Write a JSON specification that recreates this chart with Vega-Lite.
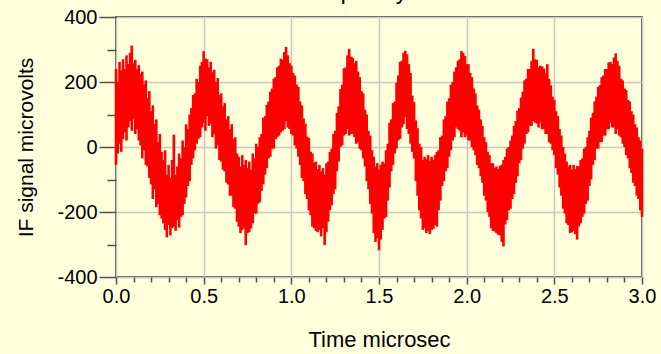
{
  "$schema": "https://vega.github.io/schema/vega-lite/v6.json",
  "width": 526,
  "height": 260,
  "autosize": {"type": "none"},
  "padding": {"left": 116, "top": 17, "right": 19, "bottom": 77},
  "background": "#FFFFDC",
  "title": {"text": "Frequency GHz", "fontSize": 23, "font": "Liberation Sans", "fontWeight": "normal", "color": "#000000", "baseline": "alphabetic", "frame": "group", "anchor": "middle", "offset": 0, "dy": 15},
  "config": {
    "view": {"stroke": "#202020", "strokeWidth": 1.5, "fill": "#FFFFDC"},
    "axis": {"labelFont": "Liberation Sans", "titleFont": "Liberation Sans", "labelFontSize": 20, "titleFontSize": 21, "titleFontWeight": "normal", "labelColor": "#000000", "titleColor": "#000000", "domain": false, "tickColor": "#505050", "tickWidth": 1.5, "gridColor": "#C8C8C0", "gridWidth": 1.5}
  },
  "data": {"values": [
{"t":0.00,"lo":-55,"hi":240},{"t":0.01,"lo":-20,"hi":200},{"t":0.02,"lo":10,"hi":262},{"t":0.03,"lo":-15,"hi":235},{"t":0.04,"lo":25,"hi":270},
{"t":0.05,"lo":45,"hi":240},{"t":0.06,"lo":20,"hi":282},{"t":0.07,"lo":60,"hi":255},{"t":0.08,"lo":80,"hi":290},{"t":0.09,"lo":50,"hi":312},
{"t":0.10,"lo":85,"hi":258},{"t":0.11,"lo":40,"hi":268},{"t":0.12,"lo":55,"hi":240},{"t":0.13,"lo":20,"hi":252},{"t":0.14,"lo":5,"hi":225},
{"t":0.15,"lo":-35,"hi":232},{"t":0.16,"lo":-10,"hi":192},{"t":0.17,"lo":-55,"hi":205},{"t":0.18,"lo":-60,"hi":150},{"t":0.19,"lo":-95,"hi":172},
{"t":0.20,"lo":-115,"hi":110},{"t":0.21,"lo":-160,"hi":128},{"t":0.22,"lo":-130,"hi":70},{"t":0.23,"lo":-185,"hi":85},{"t":0.24,"lo":-175,"hi":15},
{"t":0.25,"lo":-210,"hi":40},{"t":0.26,"lo":-220,"hi":-15},{"t":0.27,"lo":-235,"hi":-40},{"t":0.28,"lo":-255,"hi":-10},{"t":0.29,"lo":-278,"hi":-85},
{"t":0.30,"lo":-240,"hi":-55},{"t":0.31,"lo":-272,"hi":-95},{"t":0.32,"lo":-250,"hi":-40},{"t":0.33,"lo":-245,"hi":38},{"t":0.34,"lo":-258,"hi":-85},
{"t":0.35,"lo":-225,"hi":-60},{"t":0.36,"lo":-248,"hi":-20},{"t":0.37,"lo":-215,"hi":-35},{"t":0.38,"lo":-210,"hi":20},{"t":0.39,"lo":-175,"hi":0},
{"t":0.40,"lo":-155,"hi":70},{"t":0.41,"lo":-120,"hi":55},{"t":0.42,"lo":-105,"hi":100},{"t":0.43,"lo":-55,"hi":120},{"t":0.44,"lo":-35,"hi":160},
{"t":0.45,"lo":-10,"hi":165},{"t":0.46,"lo":10,"hi":210},{"t":0.47,"lo":25,"hi":200},{"t":0.48,"lo":30,"hi":250},{"t":0.49,"lo":60,"hi":262},
{"t":0.50,"lo":75,"hi":295},{"t":0.51,"lo":50,"hi":272},{"t":0.52,"lo":95,"hi":270},{"t":0.53,"lo":65,"hi":245},{"t":0.54,"lo":70,"hi":262},
{"t":0.55,"lo":30,"hi":230},{"t":0.56,"lo":40,"hi":238},{"t":0.57,"lo":-5,"hi":200},{"t":0.58,"lo":5,"hi":212},{"t":0.59,"lo":-40,"hi":160},
{"t":0.60,"lo":-45,"hi":165},{"t":0.61,"lo":-70,"hi":125},{"t":0.62,"lo":-75,"hi":135},{"t":0.63,"lo":-110,"hi":85},{"t":0.64,"lo":-115,"hi":95},
{"t":0.65,"lo":-150,"hi":55},{"t":0.66,"lo":-150,"hi":70},{"t":0.67,"lo":-185,"hi":25},{"t":0.68,"lo":-190,"hi":30},{"t":0.69,"lo":-230,"hi":-20},
{"t":0.70,"lo":-245,"hi":-30},{"t":0.71,"lo":-265,"hi":-60},{"t":0.72,"lo":-255,"hi":-25},{"t":0.73,"lo":-250,"hi":-55},{"t":0.74,"lo":-302,"hi":-40},
{"t":0.75,"lo":-265,"hi":-65},{"t":0.76,"lo":-262,"hi":-45},{"t":0.77,"lo":-250,"hi":-70},{"t":0.78,"lo":-235,"hi":-20},{"t":0.79,"lo":-205,"hi":-35},
{"t":0.80,"lo":-205,"hi":10},{"t":0.81,"lo":-175,"hi":0},{"t":0.82,"lo":-170,"hi":30},{"t":0.83,"lo":-135,"hi":40},{"t":0.84,"lo":-115,"hi":90},
{"t":0.85,"lo":-85,"hi":95},{"t":0.86,"lo":-65,"hi":130},{"t":0.87,"lo":-35,"hi":140},{"t":0.88,"lo":-30,"hi":170},{"t":0.89,"lo":-5,"hi":180},
{"t":0.90,"lo":-5,"hi":210},{"t":0.91,"lo":25,"hi":215},{"t":0.92,"lo":30,"hi":245},{"t":0.93,"lo":35,"hi":250},{"t":0.94,"lo":45,"hi":272},
{"t":0.95,"lo":50,"hi":268},{"t":0.96,"lo":55,"hi":292},{"t":0.97,"lo":80,"hi":308},{"t":0.98,"lo":60,"hi":282},{"t":0.99,"lo":55,"hi":258},
{"t":1.00,"lo":40,"hi":250},{"t":1.01,"lo":35,"hi":228},{"t":1.02,"lo":5,"hi":220},{"t":1.03,"lo":-5,"hi":192},{"t":1.04,"lo":-30,"hi":185},
{"t":1.05,"lo":-55,"hi":140},{"t":1.06,"lo":-95,"hi":128},{"t":1.07,"lo":-105,"hi":88},{"t":1.08,"lo":-145,"hi":72},{"t":1.09,"lo":-160,"hi":32},
{"t":1.10,"lo":-195,"hi":28},{"t":1.11,"lo":-210,"hi":-15},{"t":1.12,"lo":-245,"hi":-20},{"t":1.13,"lo":-250,"hi":-48},{"t":1.14,"lo":-258,"hi":-45},
{"t":1.15,"lo":-262,"hi":-68},{"t":1.16,"lo":-255,"hi":-55},{"t":1.17,"lo":-275,"hi":-75},{"t":1.18,"lo":-250,"hi":-65},{"t":1.19,"lo":-302,"hi":-85},
{"t":1.20,"lo":-262,"hi":-50},{"t":1.21,"lo":-230,"hi":-45},{"t":1.22,"lo":-195,"hi":-15},{"t":1.23,"lo":-180,"hi":-5},{"t":1.24,"lo":-145,"hi":40},
{"t":1.25,"lo":-130,"hi":50},{"t":1.26,"lo":-75,"hi":105},{"t":1.27,"lo":-45,"hi":125},{"t":1.28,"lo":0,"hi":178},{"t":1.29,"lo":5,"hi":192},
{"t":1.30,"lo":35,"hi":242},{"t":1.31,"lo":40,"hi":245},{"t":1.32,"lo":55,"hi":282},{"t":1.33,"lo":35,"hi":302},{"t":1.34,"lo":40,"hi":278},
{"t":1.35,"lo":40,"hi":275},{"t":1.36,"lo":30,"hi":258},{"t":1.37,"lo":10,"hi":265},{"t":1.38,"lo":15,"hi":232},{"t":1.39,"lo":-5,"hi":215},
{"t":1.40,"lo":-10,"hi":172},{"t":1.41,"lo":-35,"hi":165},{"t":1.42,"lo":-60,"hi":115},{"t":1.43,"lo":-105,"hi":100},{"t":1.44,"lo":-130,"hi":50},
{"t":1.45,"lo":-175,"hi":35},{"t":1.46,"lo":-205,"hi":-10},{"t":1.47,"lo":-265,"hi":-30},{"t":1.48,"lo":-292,"hi":-60},{"t":1.49,"lo":-280,"hi":-50},
{"t":1.50,"lo":-318,"hi":-70},{"t":1.51,"lo":-285,"hi":-55},{"t":1.52,"lo":-255,"hi":-45},{"t":1.53,"lo":-220,"hi":-50},{"t":1.54,"lo":-215,"hi":-10},
{"t":1.55,"lo":-165,"hi":10},{"t":1.56,"lo":-125,"hi":75},{"t":1.57,"lo":-75,"hi":85},{"t":1.58,"lo":-55,"hi":135},{"t":1.59,"lo":-20,"hi":140},
{"t":1.60,"lo":-5,"hi":198},{"t":1.61,"lo":20,"hi":220},{"t":1.62,"lo":25,"hi":262},{"t":1.63,"lo":60,"hi":265},{"t":1.64,"lo":70,"hi":290},
{"t":1.65,"lo":92,"hi":296},{"t":1.66,"lo":55,"hi":285},{"t":1.67,"lo":40,"hi":255},{"t":1.68,"lo":10,"hi":228},{"t":1.69,"lo":-15,"hi":158},
{"t":1.70,"lo":-35,"hi":138},{"t":1.71,"lo":-105,"hi":82},{"t":1.72,"lo":-150,"hi":58},{"t":1.73,"lo":-195,"hi":10},{"t":1.74,"lo":-220,"hi":0},
{"t":1.75,"lo":-255,"hi":-40},{"t":1.76,"lo":-250,"hi":-30},{"t":1.77,"lo":-265,"hi":-38},{"t":1.78,"lo":-258,"hi":-25},{"t":1.79,"lo":-268,"hi":-42},
{"t":1.80,"lo":-255,"hi":-30},{"t":1.81,"lo":-252,"hi":-40},{"t":1.82,"lo":-240,"hi":-25},{"t":1.83,"lo":-245,"hi":-15},{"t":1.84,"lo":-195,"hi":-10},
{"t":1.85,"lo":-165,"hi":30},{"t":1.86,"lo":-120,"hi":35},{"t":1.87,"lo":-105,"hi":85},{"t":1.88,"lo":-75,"hi":95},{"t":1.89,"lo":-65,"hi":140},
{"t":1.90,"lo":-30,"hi":150},{"t":1.91,"lo":-10,"hi":192},{"t":1.92,"lo":20,"hi":200},{"t":1.93,"lo":30,"hi":232},{"t":1.94,"lo":60,"hi":245},
{"t":1.95,"lo":55,"hi":265},{"t":1.96,"lo":50,"hi":270},{"t":1.97,"lo":30,"hi":295},{"t":1.98,"lo":45,"hi":290},{"t":1.99,"lo":30,"hi":280},
{"t":2.00,"lo":35,"hi":255},{"t":2.01,"lo":20,"hi":255},{"t":2.02,"lo":20,"hi":228},{"t":2.03,"lo":0,"hi":215},{"t":2.04,"lo":-10,"hi":180},
{"t":2.05,"lo":-25,"hi":165},{"t":2.06,"lo":-55,"hi":128},{"t":2.07,"lo":-65,"hi":115},{"t":2.08,"lo":-90,"hi":85},{"t":2.09,"lo":-110,"hi":65},
{"t":2.10,"lo":-150,"hi":30},{"t":2.11,"lo":-165,"hi":15},{"t":2.12,"lo":-200,"hi":-15},{"t":2.13,"lo":-215,"hi":-25},{"t":2.14,"lo":-250,"hi":-50},
{"t":2.15,"lo":-258,"hi":-50},{"t":2.16,"lo":-260,"hi":-65},{"t":2.17,"lo":-265,"hi":-60},{"t":2.18,"lo":-270,"hi":-68},{"t":2.19,"lo":-272,"hi":-58},
{"t":2.20,"lo":-292,"hi":-55},{"t":2.21,"lo":-306,"hi":-40},{"t":2.22,"lo":-238,"hi":-30},{"t":2.23,"lo":-225,"hi":-5},{"t":2.24,"lo":-195,"hi":0},
{"t":2.25,"lo":-190,"hi":20},{"t":2.26,"lo":-160,"hi":35},{"t":2.27,"lo":-145,"hi":65},{"t":2.28,"lo":-110,"hi":80},{"t":2.29,"lo":-90,"hi":112},
{"t":2.30,"lo":-50,"hi":120},{"t":2.31,"lo":-40,"hi":152},{"t":2.32,"lo":-5,"hi":170},{"t":2.33,"lo":10,"hi":205},{"t":2.34,"lo":40,"hi":210},
{"t":2.35,"lo":45,"hi":240},{"t":2.36,"lo":65,"hi":240},{"t":2.37,"lo":65,"hi":265},{"t":2.38,"lo":80,"hi":302},{"t":2.39,"lo":75,"hi":270},
{"t":2.40,"lo":72,"hi":268},{"t":2.41,"lo":60,"hi":245},{"t":2.42,"lo":75,"hi":250},{"t":2.43,"lo":55,"hi":248},{"t":2.44,"lo":55,"hi":242},
{"t":2.45,"lo":40,"hi":228},{"t":2.46,"lo":40,"hi":255},{"t":2.47,"lo":15,"hi":210},{"t":2.48,"lo":10,"hi":190},{"t":2.49,"lo":-10,"hi":155},
{"t":2.50,"lo":-25,"hi":145},{"t":2.51,"lo":-65,"hi":110},{"t":2.52,"lo":-85,"hi":95},{"t":2.53,"lo":-125,"hi":55},{"t":2.54,"lo":-150,"hi":35},
{"t":2.55,"lo":-190,"hi":0},{"t":2.56,"lo":-205,"hi":-20},{"t":2.57,"lo":-235,"hi":-45},{"t":2.58,"lo":-240,"hi":-60},{"t":2.59,"lo":-265,"hi":-55},
{"t":2.60,"lo":-262,"hi":-70},{"t":2.61,"lo":-258,"hi":-55},{"t":2.62,"lo":-268,"hi":-68},{"t":2.63,"lo":-285,"hi":-58},{"t":2.64,"lo":-245,"hi":-60},
{"t":2.65,"lo":-235,"hi":-40},{"t":2.66,"lo":-215,"hi":-35},{"t":2.67,"lo":-205,"hi":-5},{"t":2.68,"lo":-175,"hi":0},{"t":2.69,"lo":-165,"hi":30},
{"t":2.70,"lo":-120,"hi":50},{"t":2.71,"lo":-100,"hi":90},{"t":2.72,"lo":-55,"hi":105},{"t":2.73,"lo":-40,"hi":140},{"t":2.74,"lo":-5,"hi":155},
{"t":2.75,"lo":-5,"hi":185},{"t":2.76,"lo":15,"hi":190},{"t":2.77,"lo":15,"hi":215},{"t":2.78,"lo":35,"hi":220},{"t":2.79,"lo":35,"hi":240},
{"t":2.80,"lo":55,"hi":240},{"t":2.81,"lo":55,"hi":260},{"t":2.82,"lo":75,"hi":262},{"t":2.83,"lo":60,"hi":255},{"t":2.84,"lo":60,"hi":275},
{"t":2.85,"lo":40,"hi":288},{"t":2.86,"lo":55,"hi":265},{"t":2.87,"lo":35,"hi":250},{"t":2.88,"lo":30,"hi":210},{"t":2.89,"lo":10,"hi":205},
{"t":2.90,"lo":0,"hi":180},{"t":2.91,"lo":-25,"hi":175},{"t":2.92,"lo":-35,"hi":145},{"t":2.93,"lo":-65,"hi":140},{"t":2.94,"lo":-80,"hi":110},
{"t":2.95,"lo":-110,"hi":100},{"t":2.96,"lo":-120,"hi":70},{"t":2.97,"lo":-150,"hi":60},{"t":2.98,"lo":-160,"hi":30},{"t":2.99,"lo":-195,"hi":20},
{"t":3.00,"lo":-215,"hi":-5}
  ]},
  "mark": {"type": "rule", "color": "#FF0000", "strokeWidth": 2.6},
  "encoding": {
    "x": {
      "field": "t", "type": "quantitative",
      "scale": {"domain": [0, 3], "nice": false, "zero": false},
      "axis": {
        "title": "Time microsec",
        "titleFontSize": 22,
        "values": [0,0.1,0.2,0.3,0.4,0.5,0.6,0.7,0.8,0.9,1,1.1,1.2,1.3,1.4,1.5,1.6,1.7,1.8,1.9,2,2.1,2.2,2.3,2.4,2.5,2.6,2.7,2.8,2.9,3],
        "format": ".1f",
        "labelExpr": "abs(round(datum.value*10) % 5) === 0 ? datum.label : ''",
        "tickSize": {"condition": {"test": "abs(round(datum.value*10) % 5) === 0", "value": 7}, "value": 5},
        "gridOpacity": {"condition": {"test": "abs(round(datum.value*10) % 5) === 0", "value": 1}, "value": 0},
        "labelBaseline": "alphabetic",
        "labelPadding": 18,
        "labelOverlap": false,
        "labelFlush": false,
        "titleBaseline": "alphabetic",
        "titleY": 69
      }
    },
    "y": {
      "field": "lo", "type": "quantitative",
      "scale": {"domain": [-400, 400], "nice": false},
      "axis": {
        "title": "IF signal microvolts",
        "values": [-400,-300,-200,-100,0,100,200,300,400],
        "labelExpr": "datum.value % 200 === 0 ? '' + datum.value : ''",
        "tickSize": {"condition": {"test": "datum.value % 200 === 0", "value": 17}, "value": 9},
        "gridOpacity": {"condition": {"test": "datum.value % 200 === 0", "value": 1}, "value": 0},
        "labelPadding": 2,
        "labelOverlap": false,
        "labelFlush": false,
        "titleBaseline": "alphabetic",
        "titleX": -84
      }
    },
    "y2": {"field": "hi"}
  }
}
